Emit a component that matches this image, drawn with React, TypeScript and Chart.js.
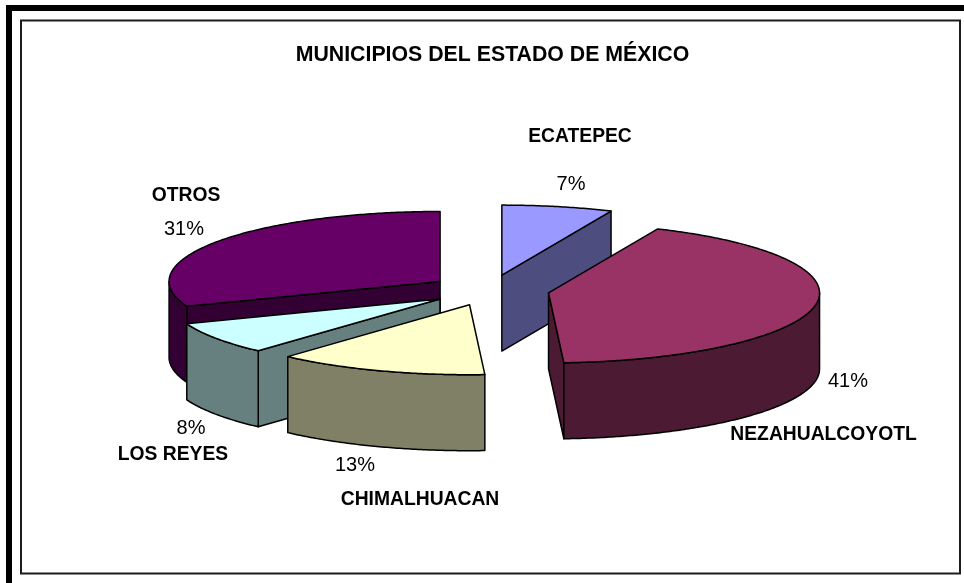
import React, { useEffect, useRef } from "react";
import { Chart, registerables } from "chart.js";

Chart.register(...registerables);

const titleText = "MUNICIPIOS DEL ESTADO DE MÉXICO";
const categories = ["ECATEPEC", "NEZAHUALCOYOTL", "CHIMALHUACAN", "LOS REYES", "OTROS"];
const shares = [6.6, 42.5, 12.6, 7.5, 30.8];
const percentLabels = ["7%", "41%", "13%", "8%", "31%"];
const topColors = ["#9999FF", "#993366", "#FFFFCC", "#CCFFFF", "#660066"];
const wallColors = ["#4D4D80", "#4C1A33", "#808066", "#668080", "#330033"];

// label anchors (centre x, name y, percentage x, percentage y)
const labelSpots = [
  { nx: 580, ny: 137, px: 571, py: 184 },
  { nx: 823.5, ny: 435, px: 848, py: 381 },
  { nx: 420, ny: 500, px: 355, py: 465 },
  { nx: 173, ny: 455, px: 191, py: 428 },
  { nx: 186, ny: 196, px: 184, py: 229 },
];

const SQUASH = 0.258;
const DEPTH = 76;
const SHIFT_X = -3;
const FONT = '"Liberation Sans", Arial, sans-serif';

const pie3d = {
  id: "pie3d",
  beforeDraw(chart: any) {
    const { ctx, width, height } = chart;
    ctx.save();
    ctx.fillStyle = "#FFFFFF";
    ctx.fillRect(0, 0, width, height);
    ctx.fillStyle = "#000000";
    ctx.fillRect(6, 5, 6, height - 5);
    ctx.fillRect(6, 5, width - 6, 6);
    ctx.strokeStyle = "#1c1c1c";
    ctx.lineWidth = 2;
    ctx.strokeRect(21, 20.5, 939, 553);
    ctx.restore();
  },
  beforeDatasetDraw(chart: any, args: any) {
    const { ctx } = chart;
    const arcs: any[] = args.meta.data;
    const cy0 = arcs[0].y;
    const mapY = (y: number) => cy0 + (y - cy0) * SQUASH;
    const geom = arcs.map((arc: any, i: number) => {
      const mid = (arc.startAngle + arc.endAngle) / 2;
      const off = (arc.options.offset || 0) / 4;
      return {
        arc,
        i,
        ox: arc.x + Math.cos(mid) * off + SHIFT_X,
        oy: arc.y + Math.sin(mid) * off,
        r: arc.outerRadius,
        a0: arc.startAngle,
        a1: arc.endAngle,
      };
    });
    const point = (g: any, a: number, r: number, z: number) => [
      g.ox + Math.cos(a) * r,
      mapY(g.oy + Math.sin(a) * r) + z,
    ];
    const paint = (pts: number[][], fill: string) => {
      ctx.beginPath();
      pts.forEach((p, k) => (k ? ctx.lineTo(p[0], p[1]) : ctx.moveTo(p[0], p[1])));
      ctx.closePath();
      ctx.fillStyle = fill;
      ctx.fill();
      ctx.stroke();
    };
    const arcPts = (g: any, from: number, to: number, z: number) => {
      const n = Math.max(2, Math.ceil((to - from) / 0.01));
      const out: number[][] = [];
      for (let k = 0; k <= n; k++) out.push(point(g, from + ((to - from) * k) / n, g.r, z));
      return out;
    };
    ctx.save();
    ctx.strokeStyle = "#000000";
    ctx.lineWidth = 1.5;
    ctx.lineJoin = "round";
    [...geom]
      .sort((p, q) => p.oy - q.oy)
      .forEach((g) => {
        const wall = wallColors[g.i];
        // radial walls facing the viewer
        const radial = (a: number, normal: number) => {
          if (Math.sin(normal) <= 0) return;
          paint(
            [point(g, a, 0, 0), point(g, a, g.r, 0), point(g, a, g.r, DEPTH), point(g, a, 0, DEPTH)],
            wall
          );
        };
        radial(g.a0, g.a0 - Math.PI / 2);
        radial(g.a1, g.a1 + Math.PI / 2);
        // curved wall: only the part on the near half of the ellipse
        const from = Math.max(g.a0, 0);
        const to = Math.min(g.a1, Math.PI);
        if (to > from) {
          paint([...arcPts(g, from, to, 0), ...arcPts(g, from, to, DEPTH).reverse()], wall);
        }
        // top face
        paint([point(g, g.a0, 0, 0), ...arcPts(g, g.a0, g.a1, 0)], g.arc.options.backgroundColor);
      });
    ctx.restore();
    return false;
  },
  afterDatasetsDraw(chart: any) {
    const { ctx } = chart;
    ctx.save();
    ctx.fillStyle = "#000000";
    ctx.textAlign = "center";
    ctx.textBaseline = "middle";
    categories.forEach((name, i) => {
      const s = labelSpots[i];
      ctx.font = `bold 19.3px ${FONT}`;
      ctx.fillText(name, s.nx, s.ny);
      ctx.font = `20px ${FONT}`;
      ctx.fillText(percentLabels[i], s.px, s.py);
    });
    ctx.restore();
  },
};

export default function App() {
  const ref = useRef<HTMLCanvasElement>(null);
  useEffect(() => {
    const chart = new Chart(ref.current as HTMLCanvasElement, {
      type: "pie",
      data: {
        labels: categories,
        datasets: [
          {
            data: shares,
            backgroundColor: topColors,
            borderWidth: 0,
            offset: 240,
          },
        ],
      },
      options: {
        animation: false,
        responsive: false,
        events: [],
        radius: 271,
        layout: { padding: { left: 21, right: 0, top: 0, bottom: 70.6 } },
        plugins: {
          legend: { display: false },
          tooltip: { enabled: false },
          title: {
            display: true,
            text: titleText,
            color: "#000000",
            font: { family: FONT, size: 21.3, weight: "bold", lineHeight: 1.2 },
            padding: { top: 42.4, bottom: 0 },
          },
        },
      },
      plugins: [pie3d],
    } as any);
    return () => chart.destroy();
  }, []);
  return (
    <div style={{ position: "absolute", left: 0, top: 0, width: 964, height: 583 }}>
      <canvas ref={ref} width={964} height={583} style={{ display: "block" }} />
    </div>
  );
}
